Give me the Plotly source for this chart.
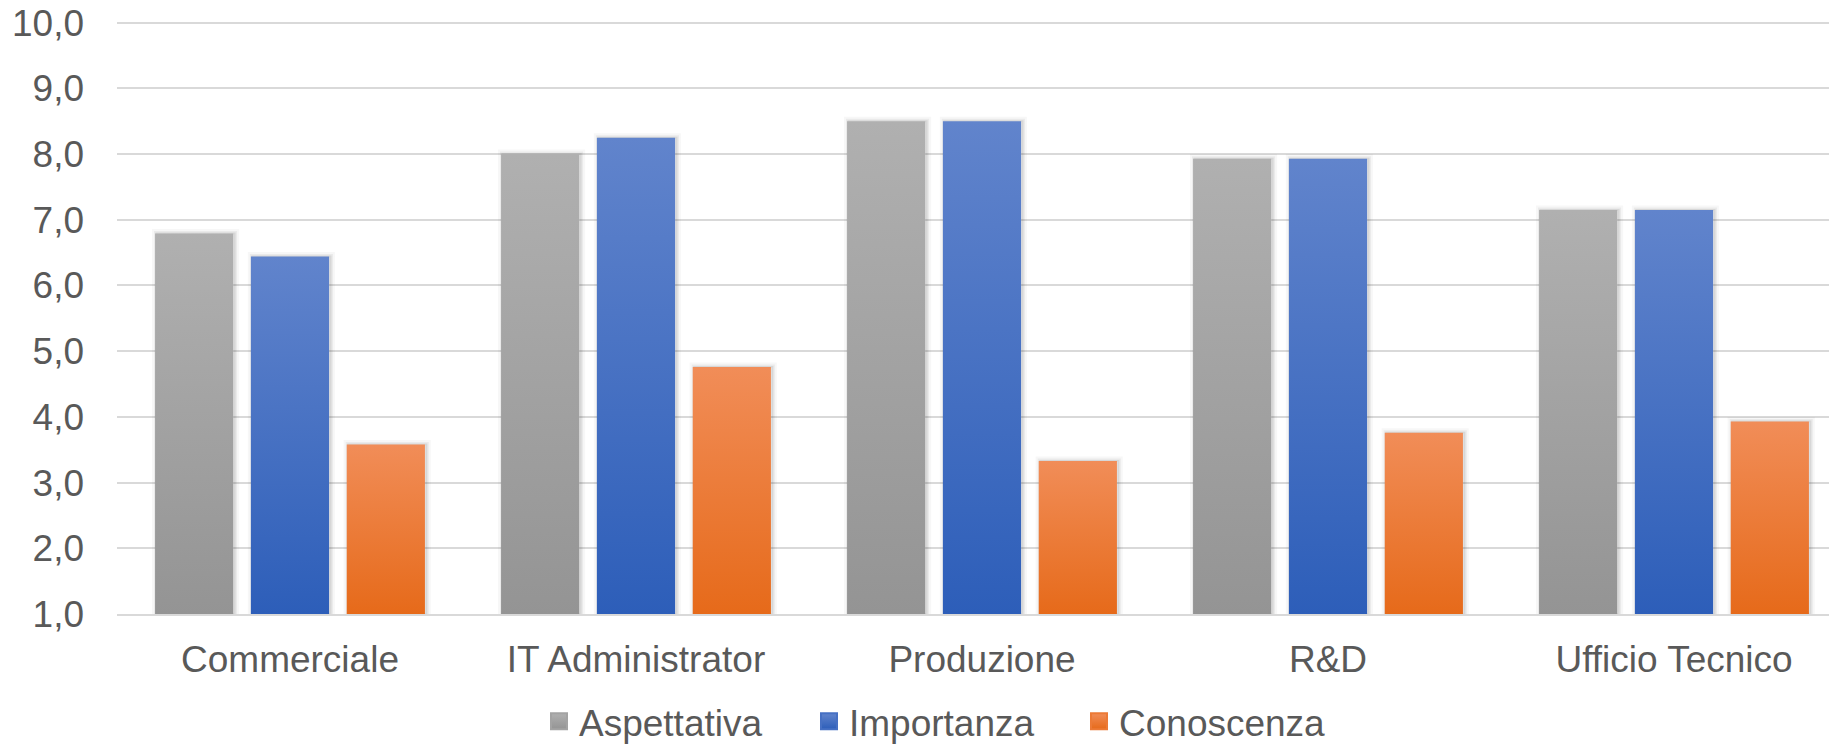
import plotly.graph_objects as go

# Survey scores per department
categories = ["Commerciale", "IT Administrator", "Produzione", "R&D", "Ufficio Tecnico"]
aspettativa = [6.79, 8.00, 8.50, 7.93, 7.15]
importanza = [6.44, 8.25, 8.50, 7.93, 7.15]
conoscenza = [3.58, 4.76, 3.33, 3.76, 3.93]
y_ticks = [1, 2, 3, 4, 5, 6, 7, 8, 9, 10]

# name, values, gradient top colour, gradient bottom colour, legend colour
series = [
    ("Aspettativa", aspettativa, "#B0B0B0", "#949494", "#A3A3A3"),
    ("Importanza", importanza, "#6184CC", "#2D5EB9", "#4670C3"),
    ("Conoscenza", conoscenza, "#F18D58", "#E66A1A", "#EC7A36"),
]

BASE = 1.0        # bars rise from the bottom of the value axis
BAR_W = 0.226     # bar width in category units
STEP = 0.277      # distance between neighbouring bars of a group

FONT = dict(family="Liberation Sans, Arial, sans-serif", color="#595959", size=37)
GRID = "#D9D9D9"

fig = go.Figure()


def bar_outline(i, offset, v):
    x0 = i + offset - BAR_W / 2
    x1 = x0 + BAR_W
    return [x0, x0, x1, x1, x0], [BASE, v, v, BASE, BASE]


# soft drop shadows behind the bars
for s_idx, (name, values, top, bottom, mid) in enumerate(series):
    offset = (s_idx - 1) * STEP
    for i, v in enumerate(values):
        xs, ys = bar_outline(i, offset + 0.004, v)
        for width, alpha in ((9, 0.03), (5, 0.05), (2, 0.08)):
            fig.add_trace(go.Scatter(
                x=xs, y=ys, mode="lines",
                line=dict(width=width, color=f"rgba(0,0,0,{alpha})"),
                showlegend=False, hoverinfo="skip",
            ))

# gradient-filled bars
for s_idx, (name, values, top, bottom, mid) in enumerate(series):
    offset = (s_idx - 1) * STEP
    for i, v in enumerate(values):
        xs, ys = bar_outline(i, offset, v)
        fig.add_trace(go.Scatter(
            x=xs, y=ys,
            mode="lines",
            fill="toself",
            line=dict(width=0, color=bottom),
            fillgradient=dict(type="vertical", colorscale=[[0, bottom], [1, top]]),
            name=name,
            legendgroup=name,
            showlegend=False,
            hovertemplate=f"{categories[i]}<br>{name}: {v:.2f}<extra></extra>",
        ))

# legend keys: one square per series
for name, values, top, bottom, mid in series:
    fig.add_trace(go.Scatter(
        x=[None], y=[None],
        mode="markers",
        name=name,
        legendgroup=name,
        marker=dict(symbol="square", size=16, color=top,
                    gradient=dict(type="vertical", color=bottom),
                    line=dict(width=2, color=mid)),
    ))

fig.update_layout(
    width=1829,
    height=744,
    margin=dict(l=117, r=0, t=19, b=130),
    paper_bgcolor="white",
    plot_bgcolor="white",
    font=FONT,
    separators=",.",
    showlegend=True,
    legend=dict(
        orientation="h",
        xref="container", yref="container",
        x=539 / 1829, xanchor="left",
        y=0.03, yanchor="middle",
        font=FONT,
        itemwidth=30,
        entrywidth=225,
        bgcolor="rgba(0,0,0,0)",
    ),
    xaxis=dict(
        range=[-0.5, -0.5 + 1712 / 346],
        tickmode="array",
        tickvals=list(range(len(categories))),
        ticktext=categories,
        showgrid=False,
        zeroline=False,
        showline=True,
        linecolor=GRID,
        linewidth=2,
        ticks="",
        ticklabelstandoff=12,
        fixedrange=True,
    ),
    yaxis=dict(
        range=[1, 10.056],
        tickmode="array",
        tickvals=y_ticks,
        tickformat=".1f",
        showgrid=True,
        gridcolor=GRID,
        gridwidth=1.5,
        zeroline=False,
        showline=False,
        ticks="",
        ticklabelstandoff=32,
        fixedrange=True,
    ),
)

fig.write_html("out.html")
